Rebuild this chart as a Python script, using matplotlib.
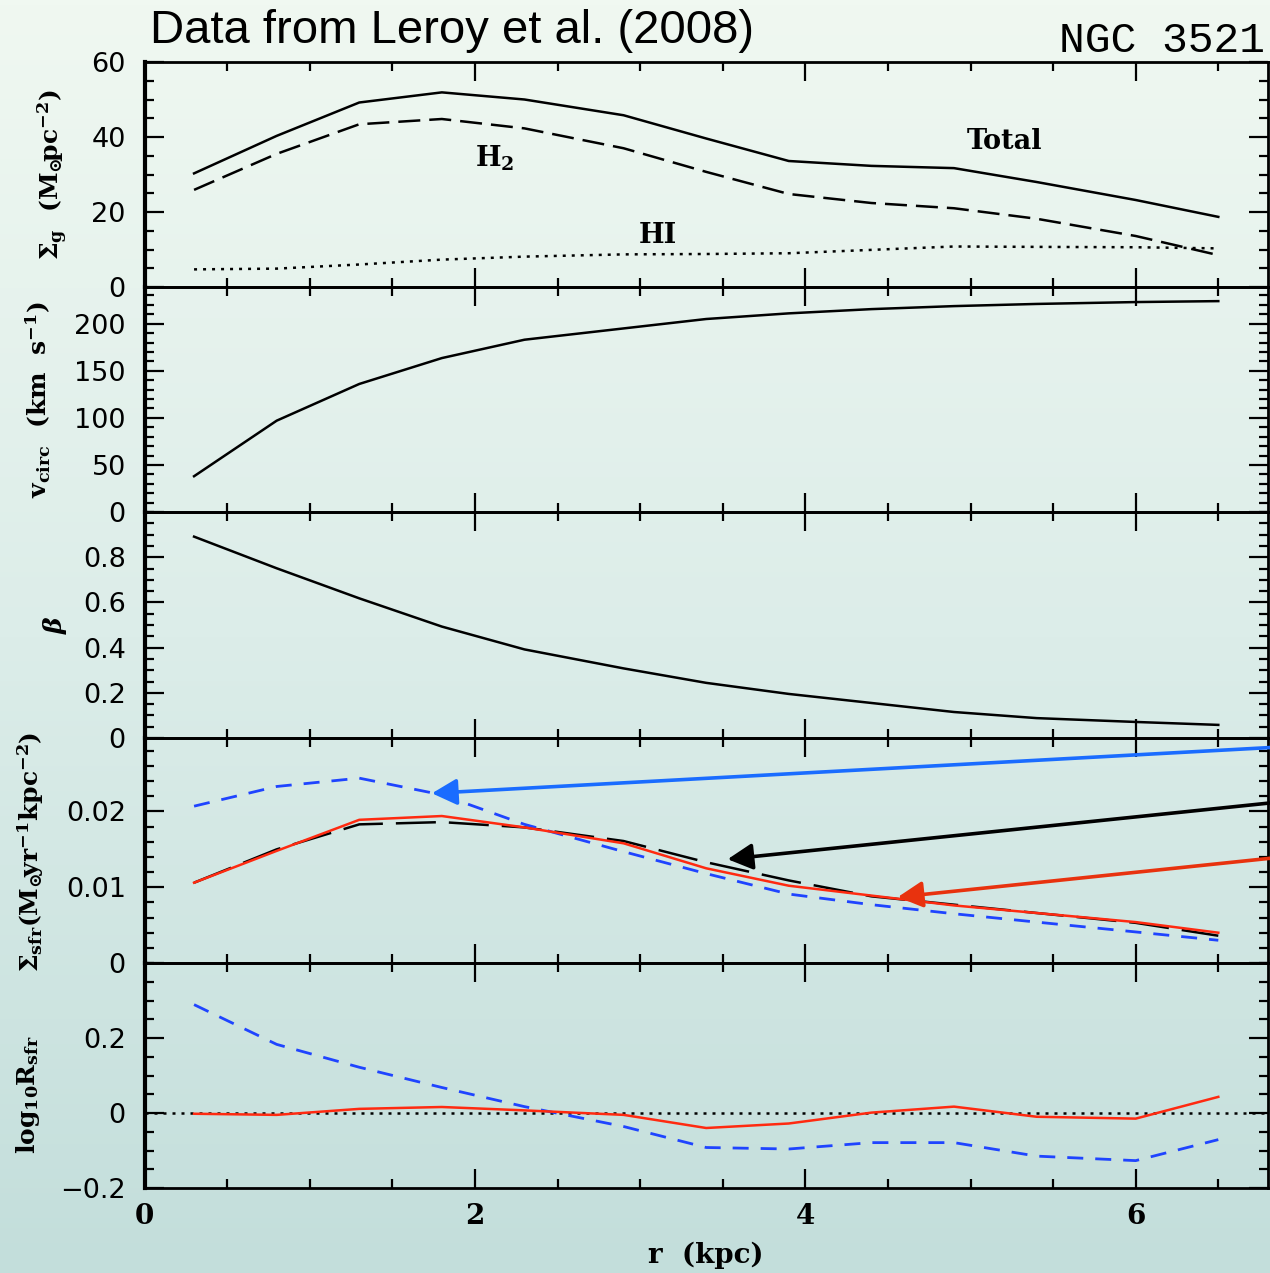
import numpy as np
import matplotlib
matplotlib.use("Agg")
import matplotlib.pyplot as plt
from matplotlib.colors import LinearSegmentedColormap
from matplotlib.ticker import MultipleLocator, FixedLocator

# --- data (NGC 3521, Leroy et al. 2008) ---
r = [0.3, 0.8, 1.3, 1.8, 2.3, 2.9, 3.4, 3.9, 4.4, 4.9, 5.4, 6.0, 6.5]

sig_total = [30.3, 40.3, 49.2, 51.9, 50.0, 45.8, 39.6, 33.6, 32.3, 31.7, 28.0, 23.2, 18.7]
sig_h2 = [25.9, 35.5, 43.4, 44.8, 42.3, 37.0, 30.7, 24.8, 22.4, 21.0, 18.2, 13.6, 8.5]
sig_hi = [4.7, 4.9, 6.0, 7.3, 8.1, 8.7, 8.8, 9.0, 9.9, 10.8, 10.7, 10.6, 10.3]

v_circ = [38, 97, 136, 163.5, 183, 195, 205, 211, 215.5, 218.7, 221, 223, 224]

beta = [0.891, 0.751, 0.618, 0.493, 0.392, 0.308, 0.244, 0.195, 0.155, 0.115, 0.088, 0.071, 0.058]

sfr_blue = [0.0207, 0.0233, 0.0244, 0.0222, 0.0183, 0.0147, 0.0118, 0.0091, 0.0077, 0.0065, 0.0054, 0.0041, 0.0030]
sfr_black = [0.0106, 0.0150, 0.0183, 0.0186, 0.0179, 0.0161, 0.0133, 0.0109, 0.0088, 0.0077, 0.0066, 0.0053, 0.0036]
sfr_red = [0.0106, 0.0148, 0.0189, 0.0194, 0.0179, 0.0158, 0.0125, 0.0102, 0.0089, 0.0076, 0.0066, 0.0054, 0.0040]

logR_blue = [0.289, 0.183, 0.122, 0.068, 0.017, -0.036, -0.092, -0.096, -0.079, -0.079, -0.115, -0.127, -0.071]
logR_red = [-0.002, -0.005, 0.011, 0.016, 0.007, -0.005, -0.040, -0.028, 0.001, 0.017, -0.010, -0.015, 0.043]

# arrows in the SFR panel: (tip x, tip y, tail x, tail y, colour)
arrows = [
    (1.74, 0.0224, 7.2, 0.0289, "#1a6cff"),
    (3.53, 0.0137, 7.2, 0.0220, "black"),
    (4.56, 0.0087, 7.2, 0.0147, "#e8320e"),
]

plt.rcParams["mathtext.fontset"] = "custom"
plt.rcParams["mathtext.rm"] = "DejaVu Serif:bold"
plt.rcParams["mathtext.bf"] = "DejaVu Serif:bold"
plt.rcParams["mathtext.it"] = "DejaVu Serif:italic:bold"

BLUE = "#1f44ff"
RED = "#ff2a10"
W, H = 1270, 1273
fig = plt.figure(figsize=(W / 100, H / 100), dpi=100)

# background gradient
bg = fig.add_axes([0, 0, 1, 1], zorder=-5)
cmap = LinearSegmentedColormap.from_list("bg", ["#c3dedb", "#dcede9", "#f0f8f1"])
bg.imshow(np.linspace(0, 1, 256).reshape(-1, 1), cmap=cmap, aspect="auto",
          extent=[0, 1, 0, 1], origin="lower")
bg.axis("off")


def dash(on, off, lw):
    # pixel lengths -> units of linewidth
    return (on * 0.72 / lw, off * 0.72 / lw)


edges = [62, 287, 512, 738, 963, 1188]
left_px, right_px = 144.5, 1268
axes = []
for i in range(5):
    top, bot = edges[i], edges[i + 1]
    ax = fig.add_axes([left_px / W, 1 - bot / H, (right_px - left_px) / W, (bot - top) / H],
                      sharex=axes[0] if axes else None)
    ax.set_facecolor("none")
    for s in ax.spines.values():
        s.set_linewidth(2.0)
    ax.spines["left"].set_linewidth(3.0)
    ax.tick_params(which="both", direction="in", top=True, right=True, labelbottom=False)
    ax.tick_params(which="major", length=13.5, width=1.6, pad=13.5, labelsize=19.5)
    ax.tick_params(which="minor", length=6.8, width=1.6)
    ax.xaxis.set_major_locator(MultipleLocator(2))
    ax.xaxis.set_minor_locator(MultipleLocator(0.5))
    axes.append(ax)

ax1, ax2, ax3, ax4, ax5 = axes
ax1.set_xlim(0, (right_px - left_px) / 165.2)

LW = 1.8
# --- panel 1: gas surface density ---
ax1.plot(r, sig_total, color="black", lw=LW)
ax1.plot(r, sig_h2, color="black", lw=LW, dashes=dash(22, 9, LW))
ax1.plot(r, sig_hi, color="black", lw=LW, dashes=dash(3, 6, LW))
ax1.set_ylim(0, 60)
ax1.yaxis.set_major_locator(FixedLocator([0, 20, 40, 60]))
ax1.yaxis.set_minor_locator(MultipleLocator(5))
ax1.set_yticklabels(["0", "20", "40", "60"])
lab = dict(fontfamily="DejaVu Serif", fontweight="bold", fontsize=19.5)
ax1.text(4.98, 36.8, "Total", va="baseline", ha="left", **lab)
ax1.text(2.0, 32.2, r"H$_2$", va="baseline", ha="left", **lab)
ax1.text(2.99, 11.8, "HI", va="baseline", ha="left", **lab)

# --- panel 2: rotation curve ---
ax2.plot(r, v_circ, color="black", lw=LW)
ax2.set_ylim(0, 239)
ax2.yaxis.set_major_locator(FixedLocator([0, 50, 100, 150, 200]))
ax2.yaxis.set_minor_locator(MultipleLocator(10))
ax2.set_yticklabels(["0", "50", "100", "150", "200"])

# --- panel 3: beta ---
ax3.plot(r, beta, color="black", lw=LW)
ax3.set_ylim(0, 1.0)
ax3.yaxis.set_major_locator(FixedLocator([0, 0.2, 0.4, 0.6, 0.8]))
ax3.yaxis.set_minor_locator(MultipleLocator(0.05))
ax3.set_yticklabels(["0", "0.2", "0.4", "0.6", "0.8"])

# --- panel 4: SFR surface density ---
ax4.plot(r, sfr_black, color="black", lw=LW, dashes=dash(40, 13, LW))
ax4.plot(r, sfr_blue, color=BLUE, lw=2.0, dashes=dash(16, 12, 2.0))
ax4.plot(r, sfr_red, color=RED, lw=1.8)
ax4.set_ylim(0, 0.0297)
ax4.yaxis.set_major_locator(FixedLocator([0, 0.01, 0.02]))
ax4.yaxis.set_minor_locator(MultipleLocator(0.002))
ax4.set_yticklabels(["0", "0.01", "0.02"])
for tx, ty, sx, sy, c in arrows:
    ax4.annotate("", xy=(tx, ty), xytext=(sx, sy), annotation_clip=False,
                 arrowprops=dict(arrowstyle="-|>,head_length=0.95,head_width=0.5",
                                 mutation_scale=16, color=c, lw=2.6,
                                 shrinkA=0, shrinkB=0))

# --- panel 5: log ratio ---
ax5.axhline(0, color="black", lw=1.8, dashes=dash(3, 6, 1.8))
ax5.plot(r, logR_blue, color=BLUE, lw=2.0, dashes=dash(16, 12, 2.0))
ax5.plot(r, logR_red, color=RED, lw=1.8)
ax5.set_ylim(-0.2, 0.4)
ax5.yaxis.set_major_locator(FixedLocator([-0.2, 0, 0.2]))
ax5.yaxis.set_minor_locator(MultipleLocator(0.05))
ax5.set_yticklabels(["\u22120.2", "0", "0.2"])
ax5.tick_params(axis="x", labelbottom=True, pad=11)
ax5.set_xticks([0, 2, 4, 6])
ax5.set_xticklabels(["0", "2", "4", "6"], fontfamily="DejaVu Serif", fontweight="bold",
                    fontsize=20)

# --- labels ---
ylab = dict(fontfamily="DejaVu Serif", fontweight="bold", fontsize=18,
            rotation=90, ha="center", va="center")
fig.text(53 / W, 1 - 175 / H, r"$\Sigma_{\rm g}$  (M$_{\odot}\!$pc$^{-2}$)", **ylab)
fig.text(38 / W, 1 - 400 / H, r"v$_{\rm circ}$  (km  s$^{-1}$)", **ylab)
fig.text(55 / W, 1 - 625 / H, r"$\beta$", **ylab)
fig.text(31 / W, 1 - 852 / H,
         r"$\Sigma_{\rm sfr}$(M$_{\odot}\!$yr$^{-1}$kpc$^{-2}$)", **ylab)
fig.text(28 / W, 1 - 1095 / H, r"log$_{10}$R$_{\rm sfr}$", **ylab)

fig.text(706 / W, 1 - 1263 / H, "r  (kpc)", ha="center", va="baseline",
         fontfamily="DejaVu Serif", fontweight="bold", fontsize=20)

fig.text(150 / W, 1 - 43 / H, "Data from Leroy et al. (2008)", ha="left", va="baseline",
         fontfamily="Liberation Sans", fontsize=34)
fig.text(1265 / W, 1 - 52 / H, "NGC 3521", ha="right", va="baseline",
         fontfamily="Liberation Mono", fontsize=31)

fig.savefig("out.png", dpi=100)
